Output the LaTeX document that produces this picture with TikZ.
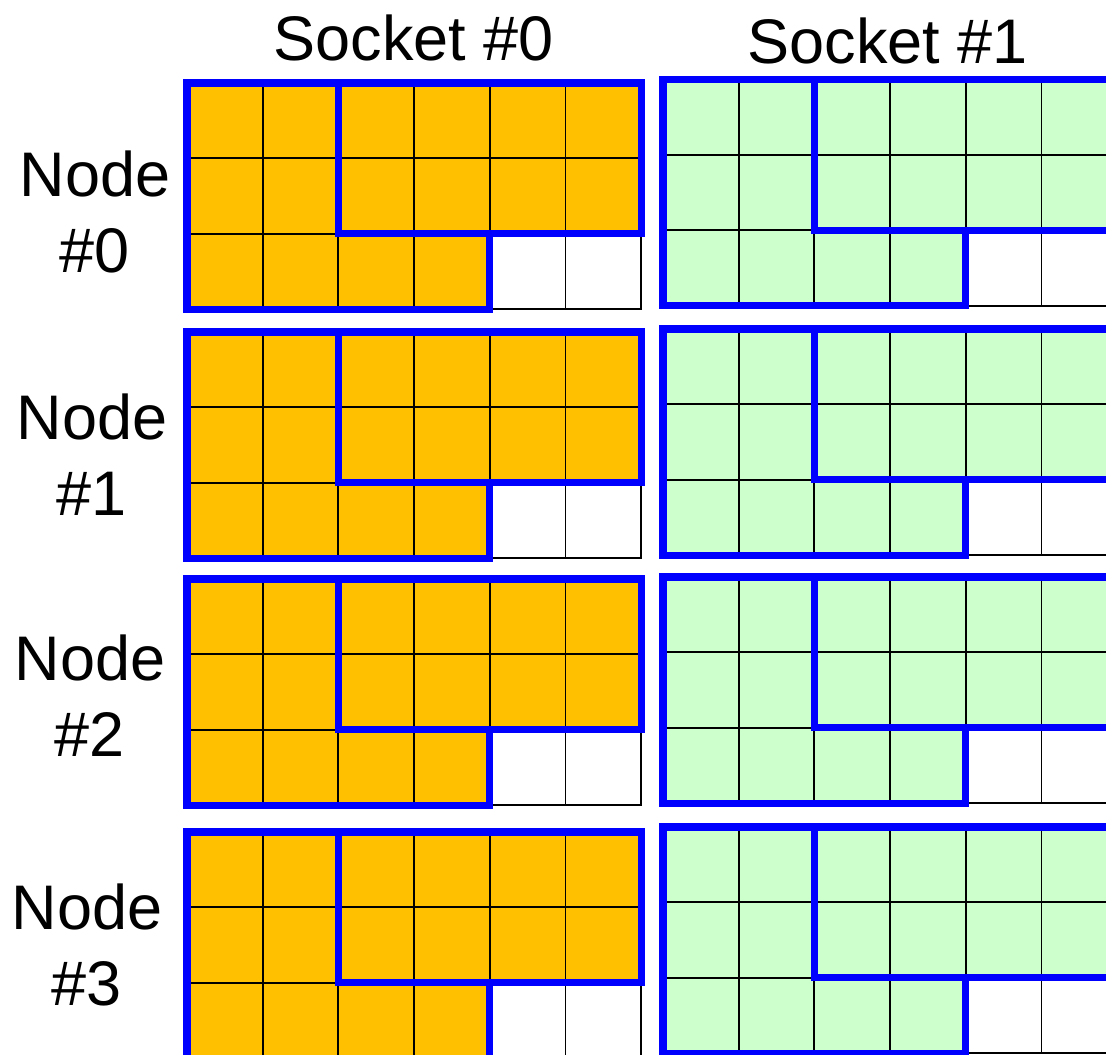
\documentclass[tikz,border=0pt]{standalone}
\usepackage{fontspec}
\setmainfont{Liberation Sans}

% one memory block: 6 x 3 cores, two core groups outlined in blue
\newcommand\coregrid[3]{% #1,#2: top-left corner, #3: fill colour
  \begin{scope}[shift={(#1,#2)}]
    \fill[#3] (0,0) -- (6*\cw,0) -- (6*\cw,2*\ch) -- (4*\cw,2*\ch)
      -- (4*\cw,3*\ch) -- (0,3*\ch) -- cycle;
    \foreach \i in {1,...,5} \draw[cellline] (\i*\cw,0) -- (\i*\cw,3*\ch);
    \foreach \j in {1,2} \draw[cellline] (0,\j*\ch) -- (6*\cw,\j*\ch);
    \draw[cellline] (0,0) rectangle (6*\cw,3*\ch);
    \draw[groupline] (0,0) -- (6*\cw,0) -- (6*\cw,2*\ch) -- (4*\cw,2*\ch)
      -- (4*\cw,3*\ch) -- (0,3*\ch) -- cycle;
    \draw[groupline] (2*\cw,0) -- (2*\cw,2*\ch) -- (4*\cw,2*\ch);
  \end{scope}}

\definecolor{sockA}{HTML}{FFC000}
\definecolor{sockB}{HTML}{CCFFCC}
\definecolor{grpblue}{HTML}{0000FF}

\begin{document}
\begin{tikzpicture}[x=1pt,y=-1pt,
  cellline/.style={black,line width=1.9pt},
  groupline/.style={grpblue,line width=7.3pt},
  title/.style={font=\fontsize{63}{76}\selectfont,inner sep=0pt,anchor=base},
  rowlabel/.style={font=\fontsize{63}{76}\selectfont,inner sep=0pt,align=center,anchor=north}]
\def\cw{75.7}
\def\ch{75.4}
\useasboundingbox (0,0) rectangle (1106,1055);
\clip (0,0) rectangle (1106,1055);

% socket #0
\coregrid{187}{83}{sockA}
\coregrid{187}{332}{sockA}
\coregrid{187}{579}{sockA}
\coregrid{187}{832}{sockA}
% socket #1
\coregrid{663}{79.5}{sockB}
\coregrid{663}{329}{sockB}
\coregrid{663}{577}{sockB}
\coregrid{663}{827}{sockB}

\node[title] (s0) at (414,60) {Socket \#0};
\node[title] (s1) at (888,63) {Socket \#1};

\node[rowlabel] (n0) at (95,151) {Node\\\#0};
\node[rowlabel] (n1) at (92,394) {Node\\\#1};
\node[rowlabel] (n2) at (90,635) {Node\\\#2};
\node[rowlabel] (n3) at (87,884) {Node\\\#3};
\end{tikzpicture}
\end{document}
